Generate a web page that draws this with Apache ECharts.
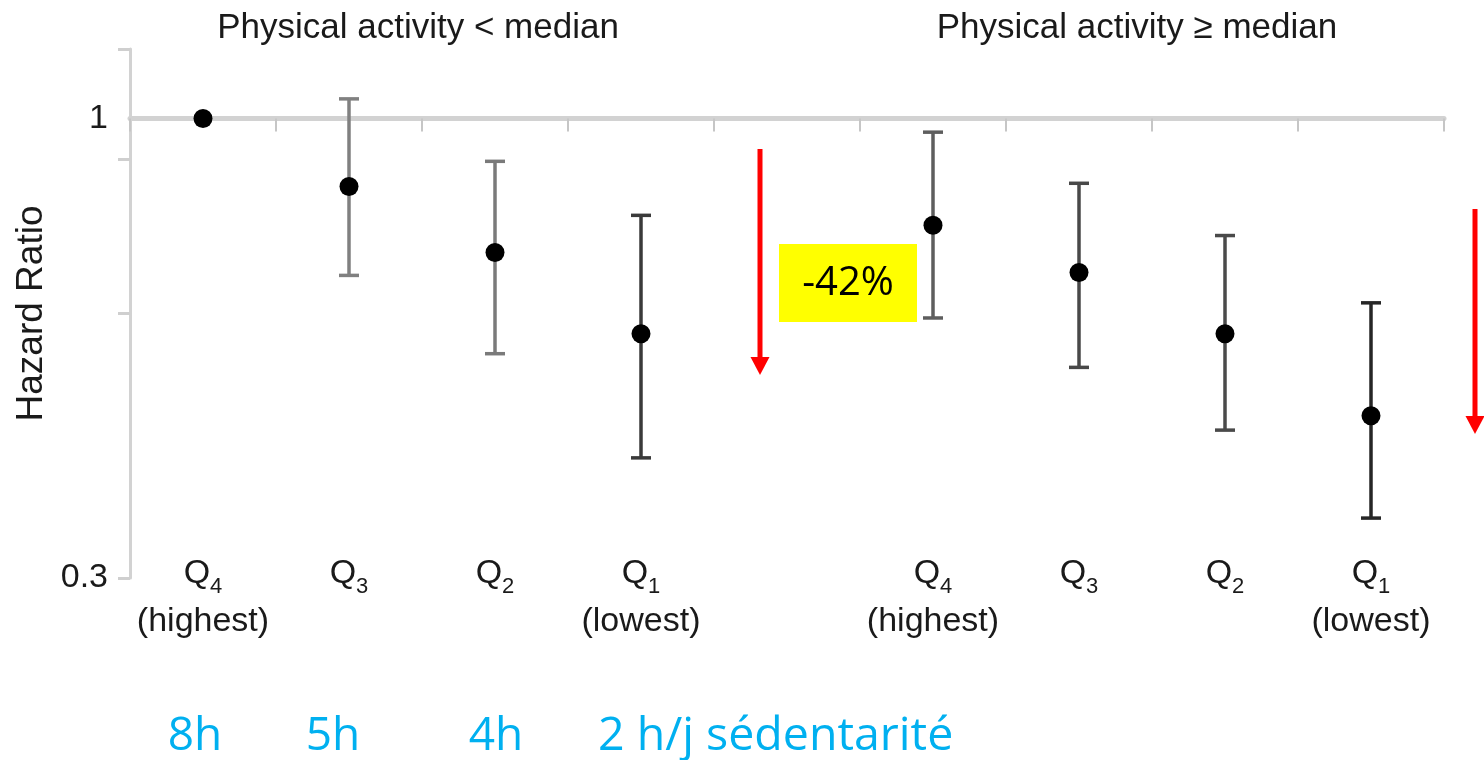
<!DOCTYPE html>
<html>
<head>
<meta charset="utf-8">
<script src="https://cdn.jsdelivr.net/npm/echarts@6/dist/echarts.min.js"></script>
<style>
html,body{margin:0;padding:0;background:#fff;}
#c{width:1484px;height:760px;}
</style>
</head>
<body>
<div id="c"></div>
<script>
// ---- data ----
const categories = ['L-Q4', 'L-Q3', 'L-Q2', 'L-Q1', 'gap', 'H-Q4', 'H-Q3', 'H-Q2', 'H-Q1'];
const quartileDigit = ['4', '3', '2', '1', '', '4', '3', '2', '1'];
const quartileNote = ['(highest)', '', '', '(lowest)', '', '(highest)', '', '', '(lowest)'];
const hazardRatio = [1.00, 0.837, 0.704, 0.569, null, 0.756, 0.668, 0.569, 0.459];
const ciLower = [null, 0.663, 0.540, 0.411, null, 0.593, 0.521, 0.442, 0.351];
const ciUpper = [null, 1.053, 0.894, 0.776, null, 0.965, 0.844, 0.736, 0.617];
const yTickValues = [0.3, 0.6, 0.9, 1.2];
const yLabelValues = [0.3, 1];
const groupTitles = ['Physical activity < median', 'Physical activity \u2265 median'];
const sedentaryLabels = ['8h', '5h', '4h', '2 h/j s\u00e9dentarit\u00e9'];
const reductionLabel = '-42%';

// ---- styles ----
const barColors = ['#444', '#808080', '#7a7a7a', '#3a3a3a', '#444', '#5e5e5e', '#484848', '#4a4a4a', '#262626'];
const FONT = 'Liberation Sans, Arial, sans-serif';
const BLUE = '#00b0f0';

const pointData = [];
hazardRatio.forEach((v, i) => { if (v != null) pointData.push([i, v]); });
const ciData = [];
ciLower.forEach((v, i) => { if (v != null) ciData.push([i, v, ciUpper[i]]); });

const chart = echarts.init(document.getElementById('c'), null, {renderer: 'canvas'});

const gridTop = 49;

function arrow(x, y1, y2) {
  return [
    {type: 'line', shape: {x1: x, y1: y1, x2: x, y2: y2 - 16}, style: {stroke: '#ff0000', lineWidth: 5}, z: 100},
    {type: 'polygon', shape: {points: [[x - 9.5, y2 - 18], [x + 9.5, y2 - 18], [x, y2]]}, style: {fill: '#ff0000'}, z: 100}
  ];
}

function centeredText(text, x, y, font, fill, align) {
  return {type: 'text', x: x, y: y, style: {text: text, font: font, fill: fill, textAlign: align || 'center', textVerticalAlign: 'middle'}};
}

const option = {
  animation: false,
  backgroundColor: '#fff',
  grid: {left: 130, right: 40, top: gridTop, bottom: 182, containLabel: false, outerBoundsMode: 'none'},
  xAxis: [
    {
      type: 'category',
      data: categories,
      position: 'bottom',
      boundaryGap: true,
      axisLine: {show: false},
      axisTick: {show: false},
      splitLine: {show: false},
      axisLabel: {
        interval: 0,
        margin: -28,
        color: '#1a1a1a',
        fontFamily: FONT,
        formatter: function (val, idx) {
          const d = quartileDigit[idx];
          if (!d) return '';
          let s = '{q|Q}{s|' + d + '}';
          if (quartileNote[idx]) s += '\n{p|' + quartileNote[idx] + '}';
          return s;
        },
        rich: {
          q: {fontSize: 34, lineHeight: 48, fontFamily: FONT, color: '#1a1a1a'},
          s: {fontSize: 22, lineHeight: 26, verticalAlign: 'bottom', fontFamily: FONT, color: '#1a1a1a'},
          p: {fontSize: 34, lineHeight: 48, fontFamily: FONT, color: '#1a1a1a'}
        }
      }
    },
    {
      type: 'category',
      data: categories,
      position: 'top',
      offset: -70,
      boundaryGap: true,
      axisLine: {show: true, lineStyle: {color: '#d2d2d2', width: 5}},
      axisTick: {show: true, inside: true, length: 13, lineStyle: {color: '#c6c6c6', width: 2}},
      axisLabel: {show: false},
      splitLine: {show: false}
    }
  ],
  yAxis: {
    type: 'log',
    logBase: 10,
    min: 0.3,
    max: 1.2,
    name: 'Hazard Ratio',
    nameLocation: 'middle',
    nameRotate: 90,
    nameGap: 72,
    nameTextStyle: {fontSize: 37, fontFamily: FONT, color: '#1a1a1a'},
    axisLine: {show: true, lineStyle: {color: '#d2d2d2', width: 3}},
    axisTick: {show: true, length: 12, customValues: yTickValues, lineStyle: {color: '#cfcfcf', width: 3}},
    axisLabel: {
      show: true,
      customValues: yLabelValues,
      margin: 22,
      fontSize: 34,
      fontFamily: FONT,
      color: '#1a1a1a',
      formatter: v => String(Math.round(v * 100) / 100)
    },
    splitLine: {show: false}
  },
  series: [
    {
      type: 'custom',
      name: 'CI',
      xAxisIndex: 0,
      data: ciData,
      encode: {x: 0, y: [1, 2]},
      z: 3,
      renderItem: function (params, api) {
        const i = api.value(0);
        const lo = api.coord([i, api.value(1)]);
        const hi = api.coord([i, api.value(2)]);
        const col = barColors[i];
        const cw = 10;
        const st = {stroke: col, lineWidth: 3.5};
        return {
          type: 'group',
          children: [
            {type: 'line', shape: {x1: lo[0], y1: lo[1], x2: hi[0], y2: hi[1]}, style: st},
            {type: 'line', shape: {x1: lo[0] - cw, y1: lo[1], x2: lo[0] + cw, y2: lo[1]}, style: st},
            {type: 'line', shape: {x1: hi[0] - cw, y1: hi[1], x2: hi[0] + cw, y2: hi[1]}, style: st}
          ]
        };
      }
    },
    {
      type: 'scatter',
      name: 'HR',
      xAxisIndex: 0,
      data: pointData,
      symbol: 'circle',
      symbolSize: 19,
      itemStyle: {color: '#000', opacity: 1},
      z: 5
    }
  ],
  graphic: [
    centeredText(groupTitles[0], 418, 28, '35px ' + FONT, '#1a1a1a'),
    centeredText(groupTitles[1], 1137, 28, '35px ' + FONT, '#1a1a1a'),
    {type: 'rect', shape: {x: 779, y: 244, width: 138, height: 78}, style: {fill: '#ffff00'}, z: 90},
    Object.assign(centeredText(reductionLabel, 848, 284, '40px Open Sans', '#000'), {z: 91}),
    ...arrow(760, 149, 375),
    ...arrow(1475, 209, 434),
    centeredText(sedentaryLabels[0], 195, 737, '46px Open Sans', BLUE),
    centeredText(sedentaryLabels[1], 333, 737, '46px Open Sans', BLUE),
    centeredText(sedentaryLabels[2], 496, 737, '46px Open Sans', BLUE),
    centeredText(sedentaryLabels[3], 598, 737, '46.5px Open Sans', BLUE, 'left')
  ]
};

chart.setOption(option);
// put the top tick axis on the HR = 1 reference line
const y1 = chart.convertToPixel({yAxisIndex: 0}, 1);
if (isFinite(y1)) {
  chart.setOption({xAxis: [{}, {offset: gridTop - y1}]});
}
</script>
</body>
</html>
